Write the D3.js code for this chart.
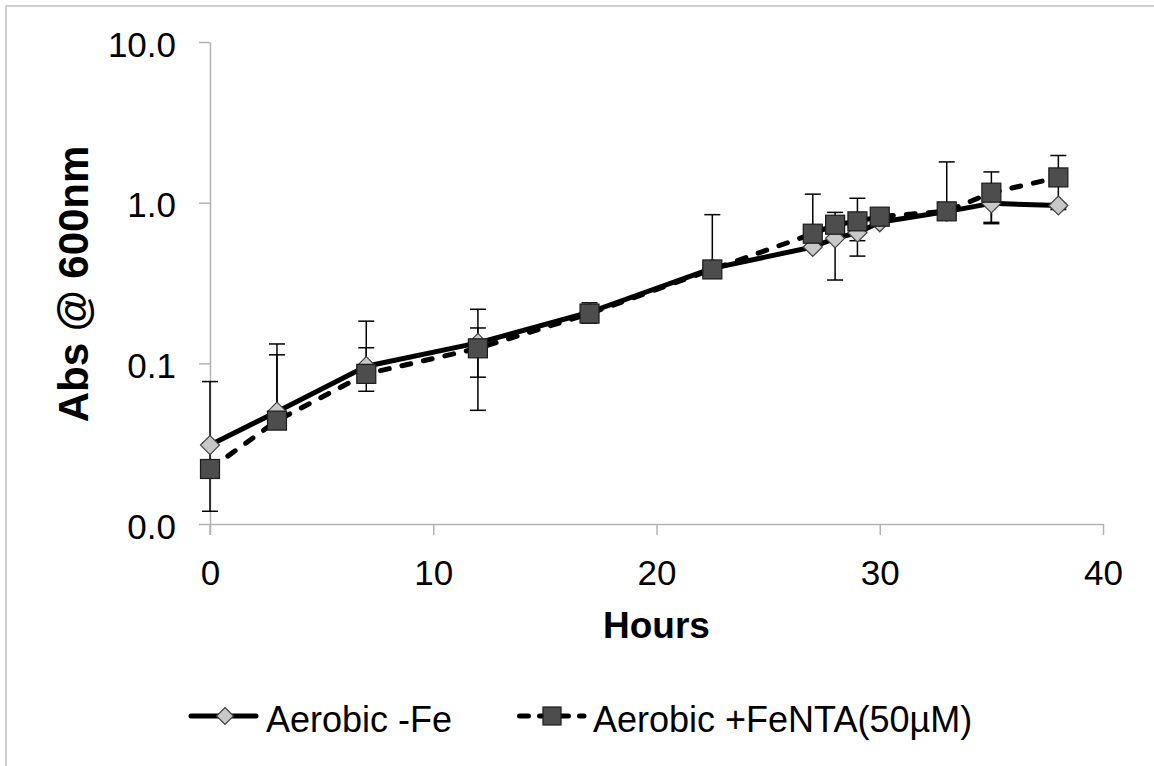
<!DOCTYPE html>
<html>
<head>
<meta charset="utf-8">
<script src="https://cdn.jsdelivr.net/npm/d3@7"></script>
<style>
  html, body { margin: 0; padding: 0; background: #fff; }
  svg { display: block; font-family: "Liberation Sans", Arial, sans-serif; }
</style>
</head>
<body>
<svg id="chart" width="1154" height="766"></svg>
<script>
// Sampling times (hours)
const hours = [0, 3, 7, 12, 17, 22.5, 27, 28, 29, 30, 33, 35, 38];

// Aerobic, no iron added
const absNoFe = [0.031, 0.050, 0.096, 0.134, 0.208, 0.39, 0.53, 0.60, 0.65, 0.755, 0.88, 0.99, 0.96];
const errNoFe = [0.046, 0.082, 0.029, 0.083, 0.030, 0.04, 0.60, 0.27, 0.07, 0.03, 0.05, 0.25, 0.03];

// Aerobic, FeNTA 50 µM
const absFeNTA = [0.022, 0.044, 0.086, 0.124, 0.204, 0.384, 0.641, 0.729, 0.765, 0.818, 0.883, 1.154, 1.436];
const errFeNTA = [0.010, 0.069, 0.097, 0.042, 0.010, 0.458, 0.04, 0.05, 0.30, 0.03, 0.91, 0.40, 0.53];

const xTicks = [0, 10, 20, 30, 40];
const yTicks = [0.01, 0.1, 1, 10];
const seriesNames = ["Aerobic -Fe", "Aerobic +FeNTA(50\u00B5M)"];

const svg = d3.select("#chart");
const axisColor = "#b3b3b3";

// outer frame
svg.append("rect")
  .attr("x", 6).attr("y", 6).attr("width", 1300).attr("height", 900)
  .attr("fill", "none").attr("stroke", "#c0c0c0").attr("stroke-width", 1.5);

const x = d3.scaleLinear().domain([0, 40]).range([210, 1103]);
const y = d3.scaleLog().domain([0.01, 10]).range([524, 42]);

// axes
const gy = svg.append("g").attr("transform", `translate(${x(0)},0)`)
  .call(d3.axisLeft(y).tickValues(yTicks).tickSize(11).tickSizeOuter(0).tickFormat(d3.format(".1f")));
const gx = svg.append("g").attr("transform", `translate(0,${y(0.01)})`)
  .call(d3.axisBottom(x).tickValues(xTicks).tickSize(11).tickSizeOuter(0).tickFormat(d3.format("d")));

[gx, gy].forEach(g => {
  g.select(".domain").attr("stroke", axisColor).attr("stroke-width", 1.5);
  g.selectAll(".tick line").attr("stroke", axisColor).attr("stroke-width", 1.5);
  g.selectAll(".tick text").attr("fill", "#000").style("font-size", "35px")
    .style("font-family", "'Liberation Sans', Arial, sans-serif");
});
gy.selectAll(".tick text").attr("x", -34).attr("dy", null).attr("y", 14);
gx.selectAll(".tick text").attr("dy", null).attr("y", 61);
// y axis runs down to the end of the lowest x tick
gy.append("line").attr("x1", 0).attr("x2", 0).attr("y1", y(0.01)).attr("y2", y(0.01) + 11)
  .attr("stroke", axisColor).attr("stroke-width", 1.5);

// axis titles
svg.append("text")
  .attr("transform", `translate(88,284) rotate(-90)`)
  .attr("text-anchor", "middle")
  .style("font-size", "42px").style("font-weight", "bold")
  .text("Abs @ 600nm");
svg.append("text")
  .attr("x", (x(0) + x(40)) / 2).attr("y", 638)
  .attr("text-anchor", "middle")
  .style("font-size", "37px").style("font-weight", "bold")
  .text("Hours");

const series = [
  { vals: absNoFe, errs: errNoFe, dash: null, marker: "diamond", fill: "#c8c8c8", stroke: "#404040" },
  { vals: absFeNTA, errs: errFeNTA, dash: "9,13", marker: "square", fill: "#4d4d4d", stroke: "#1a1a1a" }
];

const line = d3.line().x(d => x(d[0])).y(d => y(d[1]));

// connecting lines
series.forEach(s => {
  const pts = hours.map((h, i) => [h, s.vals[i]]);
  svg.append("path").datum(pts)
    .attr("d", line)
    .attr("fill", "none").attr("stroke", "#000").attr("stroke-width", 5)
    .attr("stroke-linejoin", "round")
    .attr("stroke-linecap", "round")
    .attr("stroke-dasharray", s.dash);
});

// error bars (lower half omitted where it falls below zero)
const capHalf = 8;
series.forEach(s => {
  const g = svg.append("g").attr("stroke", "#000").attr("stroke-width", 1.5);
  hours.forEach((h, i) => {
    const v = s.vals[i], e = s.errs[i];
    const cx = x(h);
    const hi = v + e, lo = v - e;
    g.append("line").attr("x1", cx).attr("x2", cx).attr("y1", y(v)).attr("y2", y(hi));
    g.append("line").attr("x1", cx - capHalf).attr("x2", cx + capHalf).attr("y1", y(hi)).attr("y2", y(hi));
    if (lo > 0.01) {
      g.append("line").attr("x1", cx).attr("x2", cx).attr("y1", y(v)).attr("y2", y(lo));
      g.append("line").attr("x1", cx - capHalf).attr("x2", cx + capHalf).attr("y1", y(lo)).attr("y2", y(lo));
    }
  });
});

function drawMarker(g, type, cx, cy, fill, stroke, size) {
  if (type === "diamond") {
    const r = size / 2;
    g.append("path")
      .attr("d", `M${cx},${cy - r}L${cx + r},${cy}L${cx},${cy + r}L${cx - r},${cy}Z`)
      .attr("fill", fill).attr("stroke", stroke).attr("stroke-width", 1.2);
  } else {
    g.append("rect")
      .attr("x", cx - size / 2).attr("y", cy - size / 2)
      .attr("width", size).attr("height", size)
      .attr("fill", fill).attr("stroke", stroke).attr("stroke-width", 1.2);
  }
}

// markers
series.forEach(s => {
  const g = svg.append("g");
  hours.forEach((h, i) => {
    drawMarker(g, s.marker, x(h), y(s.vals[i]), s.fill, s.stroke, 19);
  });
});

// legend
const legY = 716;
const legend = svg.append("g");
const legItems = [
  { x1: 191, x2: 256, tx: 266, s: series[0], name: seriesNames[0], mx: 225 },
  { x1: 519.5, x2: 584, tx: 593, s: series[1], name: seriesNames[1], mx: 552 }
];
legItems.forEach(it => {
  legend.append("line")
    .attr("x1", it.x1).attr("x2", it.x2).attr("y1", legY).attr("y2", legY)
    .attr("stroke", "#000").attr("stroke-width", 5)
    .attr("stroke-linecap", "round")
    .attr("stroke-dasharray", it.s.dash ? "9,11" : null);
  drawMarker(legend, it.s.marker, it.mx, legY, it.s.fill, it.s.stroke, it.s.marker === "diamond" ? 17 : 18);
  legend.append("text")
    .attr("x", it.tx).attr("y", legY + 16)
    .style("font-size", "36px")
    .text(it.name);
});
</script>
</body>
</html>
